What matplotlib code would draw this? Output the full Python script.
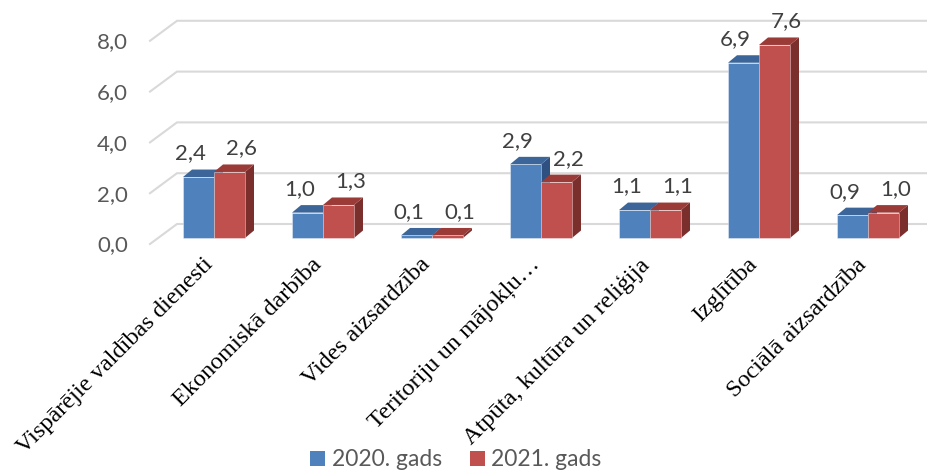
import matplotlib
matplotlib.use("Agg")
import matplotlib.pyplot as plt
from matplotlib.patches import Polygon, Rectangle, Patch

categories = [
    "Vispārējie valdības dienesti",
    "Ekonomiskā darbība",
    "Vides aizsardzība",
    "Teritoriju un mājokļu…",
    "Atpūta, kultūra un reliģija",
    "Izglītība",
    "Sociālā aizsardzība",
]
series_names = ["2020. gads", "2021. gads"]
values_2020 = [2.4, 1.0, 0.1, 2.9, 1.1, 6.9, 0.9]
values_2021 = [2.6, 1.3, 0.1, 2.2, 1.1, 7.6, 1.0]
y_ticks = [0, 2, 4, 6, 8]

# face colours: front, top, side
colors = [
    ("#4f81bd", "#3c6699", "#2f5182"),
    ("#c0504d", "#9a3b38", "#7b2f2d"),
]
sans = ["Lato", "DejaVu Sans"]
serif = ["Liberation Serif", "DejaVu Serif"]

W, H = 928, 470
fig = plt.figure(figsize=(W / 100, H / 100), dpi=100)

# axes = plane of the bar fronts, in pixels of the reference
left_px, right_px, zero_px, unit_px, cat_px, cat0_px = 158, 908, 238, 25.4, 109, 214
ax = fig.add_axes([left_px / W, (H - zero_px) / H,
                   (right_px - left_px) / W, 8 * unit_px / H])
x0 = (left_px - cat0_px) / cat_px
x1 = (right_px - cat0_px) / cat_px
ax.set_xlim(x0, x1)
ax.set_ylim(0, 8)
ax.axis("off")

PX = 1.0 / cat_px   # one pixel in x data units
PY = 1.0 / unit_px  # one pixel in y data units

# walls: front-left edge and back wall, relative to the bar plane
fx, fy = -8 * PX, -6 * PY
bx, by = 19 * PX, 14 * PY
for t in y_ticks:
    ax.plot([x0 + fx, x0 + bx, x1 + bx], [t + fy, t + by, t + by],
            color="#d9d9d9", lw=1.5, clip_on=False, zorder=1,
            solid_joinstyle="miter")
    ax.text(x0 + fx - 22 * PX, t + fy - 1.5 * PY, f"{t:.1f}".replace(".", ","),
            ha="right", va="center", fontsize=16, color="#595959",
            family=sans)

# bars with a little depth
bw = 31 * PX
dx, dy = 9 * PX, 7.5 * PY
label_shift = [-8 * PX, 12 * PX]
for s, vals in enumerate([values_2020, values_2021]):
    front, top, side = colors[s]
    for i, v in enumerate(vals):
        xl = i - bw + s * bw
        xr = xl + bw
        ax.add_patch(Polygon([(xr, 0), (xr + dx, dy), (xr + dx, v + dy), (xr, v)],
                             closed=True, facecolor=side, edgecolor="none",
                             zorder=2 + s * 3, clip_on=False))
        ax.add_patch(Polygon([(xl, v), (xr, v), (xr + dx, v + dy), (xl + dx, v + dy)],
                             closed=True, facecolor=top, edgecolor="none",
                             zorder=3 + s * 3, clip_on=False))
        ax.add_patch(Rectangle((xl, 0), bw, v, facecolor=front,
                               edgecolor=(1, 1, 1, 0.45), lw=0.6,
                               zorder=4 + s * 3, clip_on=False))
        ax.text((xl + xr) / 2 + label_shift[s], v + dy + 10 * PY,
                f"{v:.1f}".replace(".", ","), ha="center", va="baseline",
                fontsize=16, color="#404040", family=sans, zorder=10)

# category labels
for i, c in enumerate(categories):
    ax.text(i - 12 * PX, -16 * PY, c, rotation=45, rotation_mode="anchor",
            ha="right", va="top", fontsize=17.5, color="black",
            family=serif, clip_on=False)

handles = [Patch(facecolor=colors[k][0], edgecolor="none") for k in range(2)]
leg = fig.legend(handles, series_names, loc="center",
                 bbox_to_anchor=(456 / W, 10 / H), ncol=2, frameon=False,
                 handlelength=0.65, handleheight=0.65,
                 handletextpad=0.3, columnspacing=1.2, borderpad=0,
                 prop={"family": sans, "size": 16.5})
for txt in leg.get_texts():
    txt.set_color("#595959")

fig.savefig("out.png", dpi=100)
